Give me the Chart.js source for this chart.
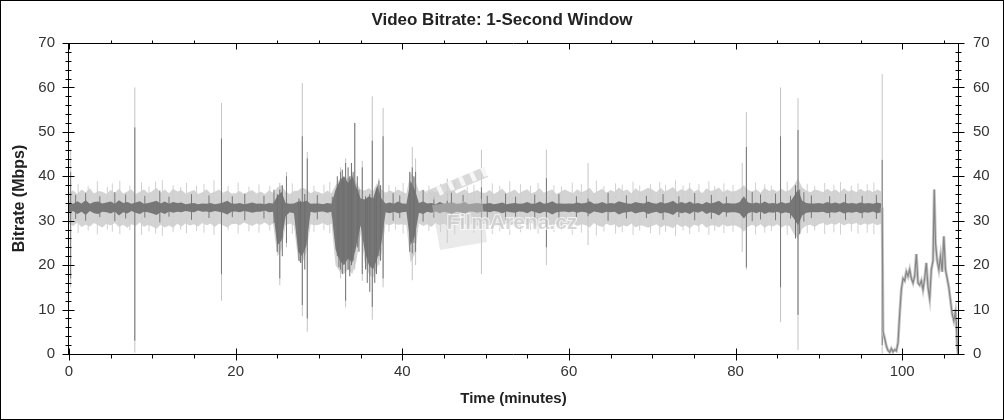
<!DOCTYPE html>
<html><head><meta charset="utf-8">
<script src="https://cdn.jsdelivr.net/npm/chart.js@4.4.1/dist/chart.umd.min.js"></script>
<style>html,body{margin:0;padding:0;background:#fff}#wrap{width:1004px;height:420px}</style>
</head><body><div id="wrap"><canvas id="c" width="1004" height="420"></canvas></div>
<script>
// ---- band envelopes (Mbps), bins every 0.5 min from 0 to 97.5 ----
const BIN_START = 0, BIN_STEP = 0.5;
const lightHi = [
36.3,36.8,36.0,37.0,36.4,37.3,36.1,36.7,36.5,36.0,36.9,36.3,37.2,36.1,36.6,37.0,36.0,36.5,37.1,36.2,
36.7,37.4,36.3,37.0,36.2,37.2,36.6,36.9,36.1,36.5,36.9,36.0,36.4,37.1,36.2,36.5,37.0,36.3,36.8,36.1,
36.2,36.7,36.0,36.5,36.9,36.1,36.6,36.0,36.8,36.3,37.5,38.0,36.5,36.0,36.7,36.8,37.5,37.0,36.2,36.7,
36.4,36.0,36.8,36.2,38.0,39.5,40.0,39.5,40.5,38.5,37.0,36.8,37.3,36.7,38.5,37.0,36.3,36.8,36.4,37.0,
36.5,36.1,41.0,39.5,36.6,37.0,36.2,36.8,36.4,37.2,36.3,36.7,37.0,36.1,36.6,37.1,36.2,36.5,36.9,36.3,
36.3,36.9,36.0,36.6,37.2,36.2,36.5,37.0,36.1,36.7,37.1,36.2,36.5,37.3,36.3,36.7,37.0,36.0,36.5,37.0,
36.6,36.2,37.1,36.4,36.8,37.4,36.2,36.7,37.2,36.3,36.9,36.5,37.5,36.7,37.0,36.2,37.3,36.5,36.9,37.4,
37.0,36.4,37.4,36.6,37.0,37.6,36.5,37.1,36.7,37.5,36.5,37.0,36.2,37.3,36.7,36.9,37.5,36.4,37.0,36.6,
36.7,37.2,38.0,36.9,36.6,37.1,36.3,37.4,36.7,37.0,36.5,37.2,36.6,36.9,38.0,39.5,37.5,36.8,36.4,37.0,
36.8,36.4,37.2,36.6,37.0,36.3,37.3,36.6,36.9,36.4,37.2,36.6,36.9,36.4,37.0,36.6];
const lightLo = [
29.3,28.8,29.6,28.6,29.1,28.7,29.5,29.0,28.5,29.3,28.9,29.5,28.6,29.1,28.4,29.2,28.8,29.6,28.6,29.1,
28.7,28.2,29.1,28.5,28.9,28.4,29.3,28.7,29.4,28.9,29.2,28.7,29.5,29.0,29.3,28.6,29.4,28.9,28.5,29.2,
29.3,29.0,29.6,29.2,28.8,29.4,29.1,29.6,28.9,29.3,22.0,23.5,29.0,29.4,28.9,21.0,20.5,23.0,29.2,29.0,
29.1,29.5,28.9,29.3,20.0,18.5,18.0,19.0,18.0,21.0,27.0,20.5,18.0,17.0,19.5,22.5,29.2,29.0,29.4,29.1,
29.2,29.0,20.5,22.5,29.4,28.8,29.2,28.6,29.5,29.0,29.3,28.8,29.1,29.4,28.9,29.3,29.0,29.5,28.8,29.2,
29.3,28.9,29.6,29.1,28.7,29.5,29.0,29.3,28.8,29.4,29.0,29.6,28.6,29.2,29.5,28.9,29.1,29.3,28.7,29.2,
29.0,29.4,28.8,29.2,29.0,28.5,29.5,28.9,28.6,29.3,28.9,29.2,28.4,29.0,28.7,29.4,28.5,29.0,28.8,28.4,
28.8,29.2,28.5,29.0,28.7,28.3,29.2,28.6,28.9,28.3,29.1,28.8,29.3,28.4,28.9,29.0,28.5,29.2,28.7,28.9,
28.9,28.5,27.5,28.7,29.1,28.6,29.2,28.4,29.0,28.7,29.2,28.5,29.0,28.8,27.0,26.0,28.2,28.9,29.1,28.6,
29.2,29.5,29.0,29.4,29.1,29.6,28.9,29.4,29.2,29.5,29.0,29.4,29.1,29.5,29.0,29.4];
const darkHi = [
34.1,33.8,34.4,33.9,34.6,33.8,34.2,34.3,33.9,34.1,34.3,33.8,34.6,34.0,34.2,33.8,34.1,34.4,33.8,34.0,
34.2,34.5,33.9,34.3,33.8,34.2,34.0,34.1,33.7,33.9,34.0,33.7,33.9,33.8,34.0,33.7,33.9,34.1,34.5,33.9,
33.8,34.0,33.7,33.9,34.1,33.8,33.9,33.7,34.0,33.9,35.5,36.5,34.0,33.8,33.9,34.3,34.2,34.5,33.8,33.9,
33.9,33.7,34.0,33.8,37.0,39.0,40.0,38.5,40.0,37.5,35.0,34.8,35.5,35.0,38.0,35.0,33.9,34.1,33.8,34.3,
33.9,33.8,39.0,37.0,34.0,34.3,33.9,34.0,33.7,34.2,33.8,34.0,34.1,33.8,33.9,34.2,33.7,33.9,34.0,33.8,
33.8,34.0,33.7,33.9,34.1,33.7,33.9,34.0,33.8,33.9,34.2,33.8,33.9,34.3,33.8,34.0,34.4,33.9,33.9,33.8,
33.9,33.8,34.1,33.9,34.0,34.4,33.8,33.9,34.2,33.8,34.0,33.9,34.4,34.1,33.9,33.8,34.2,34.0,33.9,34.3,
34.0,33.8,34.2,33.9,34.1,34.5,33.8,34.2,33.9,34.3,33.8,34.0,33.7,34.2,33.9,34.1,34.5,33.8,34.0,33.9,
33.9,34.2,35.5,34.1,33.9,34.1,33.8,34.3,33.9,34.0,33.8,34.2,33.9,34.1,35.5,37.0,34.5,34.0,33.9,33.9,
34.0,33.8,34.2,33.9,34.1,33.8,34.2,33.9,34.0,33.8,34.1,33.9,34.0,33.8,34.1,33.9];
const darkLo = [
31.8,32.2,31.5,32.0,31.3,32.2,31.7,31.5,32.0,31.9,31.6,32.1,31.2,31.9,31.6,32.2,31.8,31.5,32.0,31.9,
31.6,31.3,31.9,31.5,32.1,31.8,32.0,31.9,32.2,32.0,31.9,32.3,32.0,32.1,31.9,32.2,32.0,31.8,31.4,32.0,
32.1,31.9,32.2,32.0,31.8,32.0,32.0,32.3,31.9,32.0,24.5,25.5,31.0,31.9,31.7,23.0,22.0,24.5,32.0,31.8,
32.0,32.1,31.8,32.0,23.5,21.0,20.0,21.5,20.5,24.5,29.0,23.0,20.0,19.0,21.5,25.0,31.9,31.7,32.0,31.7,
31.9,32.0,24.5,26.5,31.8,31.5,32.0,31.8,32.1,31.7,32.0,31.8,31.6,32.0,31.9,31.5,32.1,32.0,31.8,32.0,
32.1,31.9,32.2,32.0,31.7,32.1,31.9,31.8,32.1,32.0,31.7,32.2,31.9,31.6,32.0,31.9,31.4,31.9,32.0,32.1,
31.9,32.1,31.8,32.0,31.9,31.5,32.1,31.9,31.7,32.0,31.9,32.0,31.4,31.8,31.9,32.1,31.6,31.9,32.0,31.5,
31.8,32.0,31.6,31.9,31.7,31.3,32.0,31.7,31.9,31.5,32.1,31.8,32.2,31.5,31.9,31.7,31.2,32.0,31.8,31.9,
31.9,31.6,30.5,31.7,32.0,31.7,32.1,31.5,31.9,31.8,32.0,31.6,31.9,31.7,30.5,29.0,31.2,31.8,31.9,31.9,
31.9,32.0,31.7,31.9,31.8,32.1,31.6,31.9,31.8,32.0,31.7,31.9,31.8,32.1,31.7,31.9];

// ---- large isolated peaks (minutes, Mbps) ----
const spikeTime        = [0.2, 7.9, 18.3, 25.3, 26.1, 28.0, 28.6, 32.6, 33.2, 34.3, 35.2, 36.4, 37.2, 37.7, 41.2, 41.6, 45.4, 49.5, 57.3, 62.3, 80.8, 81.3, 85.4, 87.5, 97.6];
const spikeLightTop    = [46,  60,  56.5, 38.5, 41,  61,  45.5, 42,  44,  52,  43.5, 58,  39.5, 55.4, 46.6, 44,  39.5, 46,  46,  43,  43,  54.5, 60,  57.6, 63];
const spikeLightBottom = [15,  0.3, 12,   15.5, 24,  8.5, 5,    17,  10.5, 19, 16.5, 7.7, 20,   15,   16.6, 20,  25,   18,  20,  24.5, 23, 19,   7.2, 0.9,  0];
const spikeDarkTop     = [41,  51,  48.5, 37,   40,  49,  44,   41,  43,  52,  42,   48,  39,   49,   42,   41,  34.5, 37.5, 39.6, 35, 35,  46.6, 49,  50.4, 43.7];
const spikeDarkBottom  = [17,  3,   18,   17,   25,  11,  8,    19,  12,  23,  18,   10.6, 22,  17,   22.7, 23,  32,   30,  24,  31,  31,  19.5, 15,  8.8,  2];

// ---- dark bursts inside the busy passages ----
const burstTime   = [25.0, 25.6, 27.6, 27.8, 28.3, 32.2, 32.4, 32.8, 33.0, 33.5, 33.7, 33.9, 34.1, 34.6, 34.8, 35.6, 35.8, 36.1, 36.7, 36.9, 37.4, 40.9, 41.4, 87.2, 87.7];
const burstTop    = [36,   38,   35,   34.5, 36,   40,   38,   41.5, 39,   42,   40,   43,   41,   40,   37,   35.5, 34.8, 36,   35,   37,   38,   41,   40,   38,   37];
const burstBottom = [23,   22,   21,   20.5, 19,   22,   19.5, 18,   21,   19,   17.5, 20,   21,   24,   23,   19,   16,   14,   16,   18,   21,   23,   25,   26,   27];

// ---- small light-grey excursions of the band ----
const noiseLightTime = [1.1,2.3,3.4,4.6,5.2,6.1,7.3,8.7,9.6,10.4,11.2,12.5,13.4,14.1,15.3,16.2,17.4,19.1,20.3,21.6,22.8,24.1,26.8,29.4,30.6,31.3,38.4,39.2,40.1,43.2,44.6,46.3,47.8,48.6,50.8,51.7,52.9,54.2,55.4,56.3,58.2,59.1,60.4,61.5,63.3,64.2,65.6,66.4,67.7,68.5,69.8,70.9,71.6,72.8,73.7,74.5,75.6,76.8,77.5,78.6,79.7,82.4,83.5,84.3,86.2,88.6,89.5,90.7,91.8,92.6,93.9,94.7,95.8,96.6];
const noiseLightTop = [38.2,37.8,38.9,37.6,38.4,39.0,37.9,38.6,37.7,38.8,39.2,38.0,37.6,38.5,37.9,38.3,39.1,37.8,38.6,37.7,38.2,37.9,38.4,37.8,38.1,38.7,38.0,37.6,38.5,37.9,38.3,38.8,37.7,38.1,38.4,37.8,38.9,38.2,37.9,38.5,38.0,37.7,38.6,38.2,39.0,37.8,38.4,38.1,38.8,37.9,38.3,38.7,38.0,39.1,37.9,38.5,38.2,38.9,37.8,38.4,38.0,38.6,38.2,37.9,38.8,38.3,37.8,38.5,38.1,38.7,37.9,38.4,38.2,38.6];
const noiseLightBottom = [27.2,27.8,26.9,28.0,27.5,27.0,27.9,26.8,27.6,27.1,26.6,27.4,28.0,27.2,27.7,27.3,26.8,27.9,27.1,27.6,27.3,27.8,27.0,27.5,27.9,27.2,27.6,28.0,27.1,27.7,27.4,26.9,27.8,27.3,27.0,27.6,26.8,27.4,27.9,27.1,27.5,27.8,26.9,27.3,26.7,27.6,27.1,27.4,26.8,27.7,27.2,26.9,27.5,26.6,27.8,27.0,27.4,26.8,27.7,27.2,27.5,26.9,27.3,27.7,26.8,27.2,27.8,27.0,27.4,26.9,27.6,27.1,27.3,27.0];

// ---- small dark excursions of the average line ----
const noiseDarkTime = [0.8,2.0,3.7,5.5,6.8,9.1,10.9,12.0,14.7,16.8,19.6,21.1,23.4,24.6,29.8,31.6,38.9,39.7,42.5,43.8,45.9,47.3,50.2,52.4,53.6,55.9,58.8,60.9,64.7,66.9,69.3,71.3,73.2,75.1,77.1,78.9,82.0,83.0,84.8,86.6,88.2,89.1,91.3,93.2,95.2,96.9];
const noiseDarkTop = [35.8,36.2,35.5,36.4,35.9,35.6,36.8,35.4,36.0,35.7,35.5,36.1,35.6,37.0,35.8,35.4,36.2,35.7,36.9,35.5,36.3,35.8,35.6,36.1,35.4,35.9,36.0,35.5,36.3,35.7,35.6,36.0,35.5,36.2,35.8,35.4,36.5,35.9,36.1,35.6,36.4,35.7,35.5,36.0,35.6,35.8];
const noiseDarkBottom = [30.4,30.0,30.8,29.9,30.5,30.7,29.6,30.9,30.2,30.6,30.8,30.1,30.5,29.5,30.3,30.8,30.0,30.6,29.8,30.7,30.2,30.4,30.6,30.1,30.9,30.3,30.2,30.7,30.0,30.5,30.6,30.2,30.8,30.1,30.4,30.9,29.9,30.3,30.1,30.5,29.8,30.6,30.7,30.2,30.6,30.4];

// ---- end credits section (minutes, Mbps) ----
const tailTime = [97.6,97.7,97.9,98.1,98.3,98.5,98.7,98.9,99.1,99.3,99.5,99.7,99.9,100.1,100.3,100.5,100.7,100.9,101.1,101.3,101.5,101.7,101.9,102.1,102.3,102.5,102.7,102.9,103.1,103.3,103.5,103.7,103.85,104.0,104.2,104.4,104.6,104.8,105.0,105.2,105.4,105.6,105.8,106.0,106.2,106.4,106.5,106.6,106.7];
const tailRate = [33.0,5.0,3.5,1.8,0.8,0.4,1.2,0.5,1.0,0.7,2.5,9.0,14.5,17.0,16.5,18.5,17.5,19.0,17.0,16.0,17.5,22.5,16.0,15.5,16.5,14.5,17.0,20.5,15.0,12.5,19.0,21.0,37.0,25.0,21.0,19.0,22.0,18.5,26.5,19.0,17.0,15.0,12.0,9.0,7.5,9.5,7.0,2.0,0.0];

const xTickLabels = [0, 20, 40, 60, 80, 100];
const yTickLabels = [0, 10, 20, 30, 40, 50, 60, 70];

const FONT = '"Liberation Sans", Arial, sans-serif';
const binPts = arr => arr.map((v, i) => ({x: BIN_START + i * BIN_STEP, y: v}));
const segPts = (times, tops, bottoms) => {
  const d = [];
  times.forEach((t, i) => { d.push({x: t, y: bottoms[i]}, {x: t, y: tops[i]}, {x: t, y: null}); });
  return d;
};
const tailPts = tailTime.map((t, i) => ({x: t, y: tailRate[i]}));

const LIGHT = '#d3d3d3', LIGHT_LINE = '#d0d0d0', DARK = '#777777';

const framePlugin = {
  id: 'frame',
  afterDraw(chart) {
    const {ctx, chartArea: a, scales} = chart;
    const xs = scales.x, ys = scales.y;
    ctx.save();
    ctx.strokeStyle = '#000'; ctx.lineWidth = 1;
    const L = Math.round(a.left) - 0.5, R = Math.round(a.right) + 0.5;
    const T = Math.round(a.top) + 0.5, B = Math.round(a.bottom) + 0.5;
    ctx.beginPath();
    ctx.rect(L, T, R - L, B - T);
    for (let v = 0; v <= 70; v += 2) {
      const p = Math.round(ys.getPixelForValue(v)) + 0.5;
      const len = v % 10 === 0 ? 6 : 3;
      ctx.moveTo(L - len, p); ctx.lineTo(L + len, p);
      ctx.moveTo(R - len, p); ctx.lineTo(R + len, p);
    }
    for (let v = 0; v <= 105; v += 5) {
      const p = Math.round(xs.getPixelForValue(v)) + 0.5;
      if (v % 20 === 0) {
        ctx.moveTo(p, B - 6); ctx.lineTo(p, B + 6);
        ctx.moveTo(p, T); ctx.lineTo(p, T + 6);
      } else {
        ctx.moveTo(p, B); ctx.lineTo(p, B + 4);
        ctx.moveTo(p, T - 3); ctx.lineTo(p, T);
      }
    }
    ctx.stroke();
    ctx.strokeRect(0.5, 0.5, chart.width - 1, chart.height - 1);
    ctx.restore();
  }
};

const watermarkPlugin = {
  id: 'watermark',
  afterDatasetsDraw(chart) {
    const ctx = chart.ctx;
    ctx.save();
    ctx.globalAlpha = 0.45;
    ctx.fillStyle = '#d0d0d0';
    ctx.beginPath();
    ctx.moveTo(432, 205); ctx.lineTo(482, 199); ctx.lineTo(487, 242); ctx.lineTo(440, 250); ctx.closePath();
    ctx.fill();
    ctx.globalAlpha = 0.8;
    ctx.beginPath();
    ctx.moveTo(426, 191); ctx.lineTo(484, 167); ctx.lineTo(488, 177); ctx.lineTo(430, 201); ctx.closePath();
    ctx.fill();
    ctx.fillStyle = '#ffffff';
    for (let k = 0; k < 5; k++) {
      const bx = 436 + k * 11, by = 187 - k * 4.6;
      ctx.beginPath();
      ctx.moveTo(bx, by); ctx.lineTo(bx + 4, by - 1.7); ctx.lineTo(bx + 8, by + 7); ctx.lineTo(bx + 4, by + 8.7); ctx.closePath();
      ctx.fill();
    }
    ctx.globalAlpha = 0.7;
    ctx.font = 'bold 21px ' + FONT;
    ctx.textAlign = 'center'; ctx.textBaseline = 'alphabetic';
    ctx.lineWidth = 2; ctx.strokeStyle = '#ffffff';
    ctx.strokeText('FilmArena.cz', 512, 229);
    ctx.fillStyle = '#c4c4c4';
    ctx.fillText('FilmArena.cz', 512, 229);
    ctx.restore();
  }
};

new Chart(document.getElementById('c'), {
  type: 'line',
  data: {
    datasets: [
      {data: binPts(lightHi), borderWidth: 0, borderColor: 'rgba(0,0,0,0)', fill: false, order: 10},
      {data: binPts(lightLo), borderWidth: 0, borderColor: 'rgba(0,0,0,0)', backgroundColor: LIGHT, fill: '-1', order: 10},
      {data: segPts(noiseLightTime, noiseLightTop, noiseLightBottom), borderWidth: 1, borderColor: LIGHT_LINE, spanGaps: false, fill: false, order: 9},
      {data: segPts(spikeTime, spikeLightTop, spikeLightBottom), borderWidth: 1, borderColor: '#c4c4c4', spanGaps: false, fill: false, order: 9},
      {data: binPts(darkHi), borderWidth: 0, borderColor: 'rgba(0,0,0,0)', fill: false, order: 8},
      {data: binPts(darkLo), borderWidth: 0, borderColor: 'rgba(0,0,0,0)', backgroundColor: DARK, fill: '-1', order: 8},
      {data: segPts(noiseDarkTime, noiseDarkTop, noiseDarkBottom), borderWidth: 1, borderColor: DARK, spanGaps: false, fill: false, order: 7},
      {data: segPts(burstTime, burstTop, burstBottom), borderWidth: 1, borderColor: '#6e6e6e', spanGaps: false, fill: false, order: 7},
      {data: segPts(spikeTime, spikeDarkTop, spikeDarkBottom), borderWidth: 1, borderColor: DARK, spanGaps: false, fill: false, order: 7},
      {data: tailPts, borderWidth: 3, borderColor: '#c8c8c8', fill: false, order: 6},
      {data: tailPts, borderWidth: 1.2, borderColor: '#858585', fill: false, order: 5}
    ]
  },
  options: {
    responsive: false, animation: false, devicePixelRatio: 1,
    layout: {padding: 0},
    elements: {point: {radius: 0, hoverRadius: 0}, line: {tension: 0}},
    plugins: {
      legend: {display: false}, tooltip: {enabled: false},
      title: {display: true, text: 'Video Bitrate: 1-Second Window', color: '#222',
        font: {family: FONT, size: 17, weight: 'bold'}, padding: {top: 10, bottom: 12.6}}
    },
    scales: {
      x: {
        type: 'linear', position: 'bottom', min: 0, max: 106.7,
        grid: {display: false, drawTicks: false}, border: {display: false},
        ticks: {stepSize: 20, includeBounds: false, autoSkip: false, maxRotation: 0, color: '#333',
          font: {family: FONT, size: 15}, padding: 9,
          callback: v => xTickLabels.includes(v) ? String(v) : ''},
        title: {display: true, text: 'Time (minutes)', color: '#222',
          font: {family: FONT, size: 15, weight: 'bold'}, padding: {top: 0, bottom: 12}},
        afterFit: s => { s.height = 66; }
      },
      y: {
        type: 'linear', position: 'left', min: 0, max: 70,
        grid: {display: false, drawTicks: false}, border: {display: false},
        ticks: {stepSize: 10, color: '#333', font: {family: FONT, size: 15}, padding: 14,
          callback: v => yTickLabels.includes(v) ? String(v) : ''},
        title: {display: true, text: 'Bitrate (Mbps)', color: '#222',
          font: {family: FONT, size: 16, weight: 'bold'}, padding: {top: 10.4, bottom: 0}},
        afterFit: s => { s.width = 69; }
      },
      y2: {
        type: 'linear', position: 'right', min: 0, max: 70,
        grid: {display: false, drawTicks: false}, border: {display: false},
        ticks: {stepSize: 10, color: '#333', font: {family: FONT, size: 15}, padding: 15,
          callback: v => yTickLabels.includes(v) ? String(v) : ''},
        afterFit: s => { s.width = 46; }
      }
    }
  },
  plugins: [watermarkPlugin, framePlugin]
});
</script>
</body></html>
